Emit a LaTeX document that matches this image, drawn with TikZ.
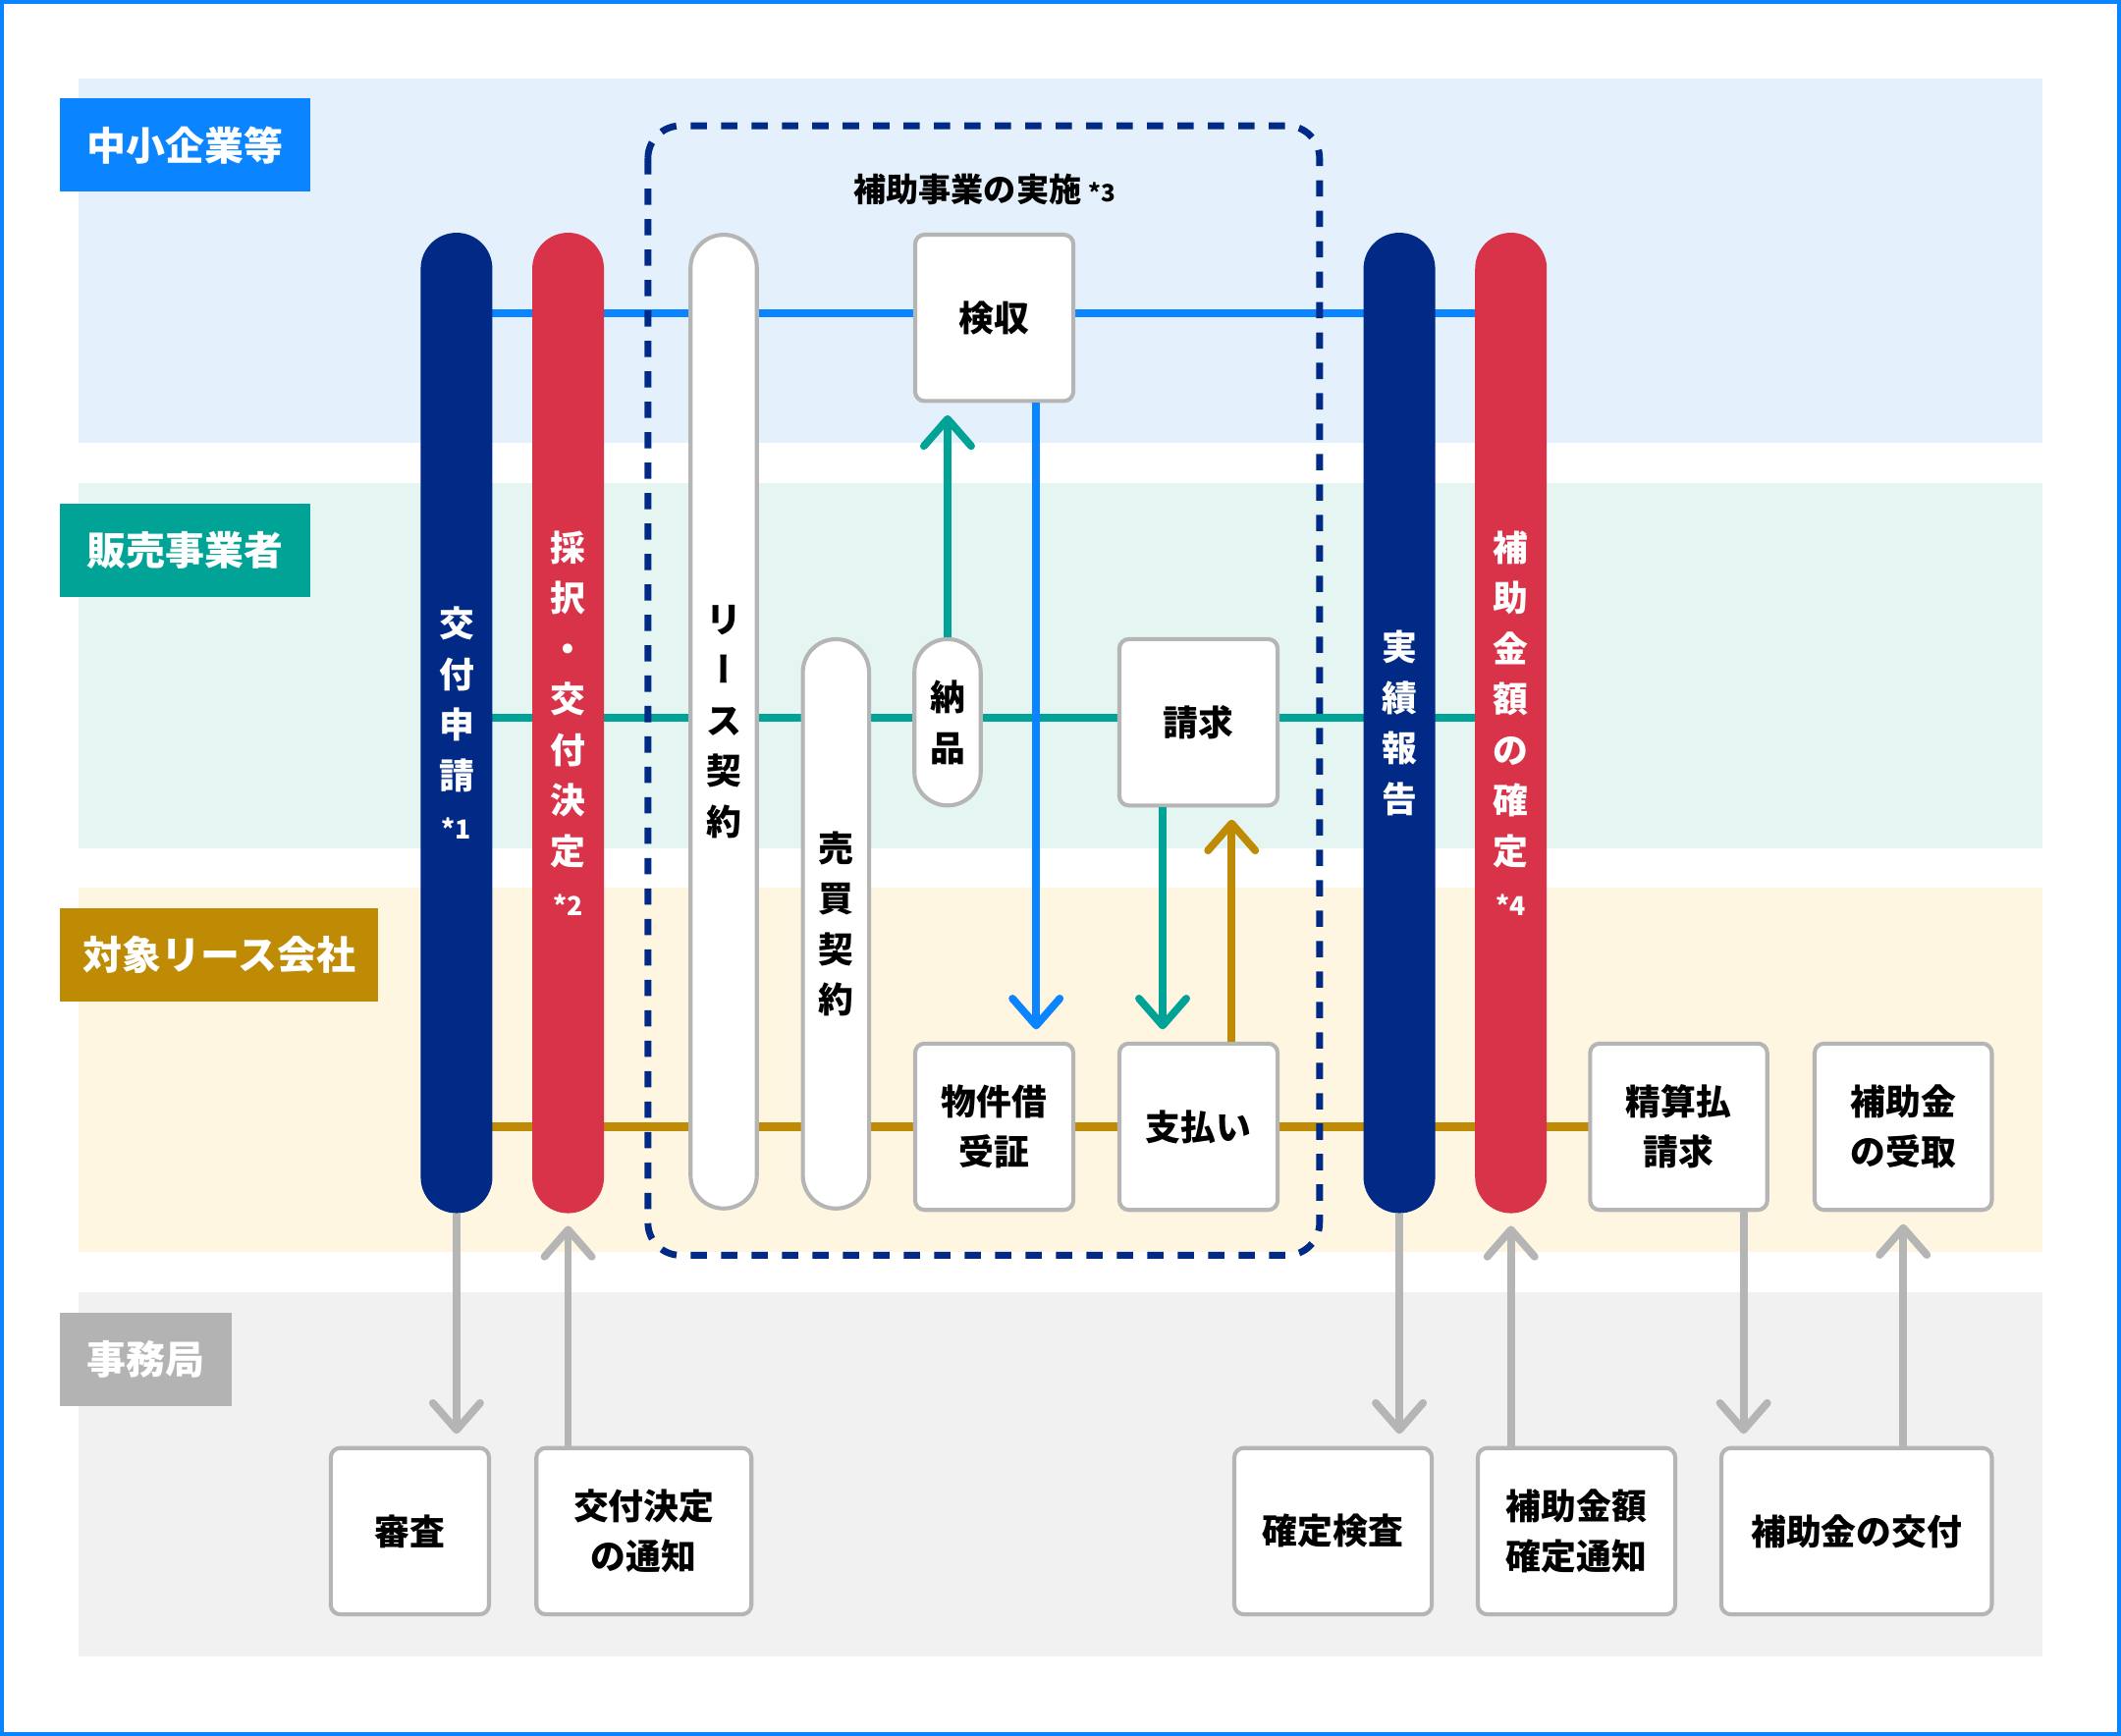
\documentclass[tikz,border=0pt]{standalone}
\usepackage{fontspec}
\setmainfont{Noto Sans CJK JP}
\newfontfamily\jpvert{Noto Sans CJK JP}[RawFeature=+vert]
\usepackage{tikz}
\usetikzlibrary{arrows.meta}

\definecolor{cBlue}{HTML}{0A84FF}
\definecolor{cTeal}{HTML}{00A396}
\definecolor{cGold}{HTML}{BF8A04}
\definecolor{cNavy}{HTML}{002A86}
\definecolor{cRed}{HTML}{D9334A}
\definecolor{cGray}{HTML}{B3B3B3}
\definecolor{cLine}{HTML}{B5B5B5}
\definecolor{laneA}{HTML}{E4F1FC}
\definecolor{laneB}{HTML}{E4F5F2}
\definecolor{laneC}{HTML}{FFF6E2}
\definecolor{laneD}{HTML}{F1F1F1}

\pgfdeclarelayer{back}
\pgfdeclarelayer{rails}
\pgfsetlayers{back,rails,main}

\tikzset{
  lanelab/.style={fill=#1, text=white, anchor=north west, minimum height=1.38cm, inner xsep=0.4cm, font=\fontsize{16.5}{20}\selectfont\bfseries},
  pill/.style={fill=#1, text=white, rounded corners=0.53cm, minimum width=1.06cm, minimum height=14.5cm, inner sep=0pt, align=center, font=\fontsize{14.8}{21.3}\selectfont\bfseries},
  wpill/.style={pill=white, draw=cLine, line width=1.7pt, text=black, minimum width=0.98cm, rounded corners=0.49cm},
  wbox/.style={fill=white, draw=cLine, line width=1.7pt, rounded corners=0.14cm, minimum height=2.46cm, minimum width=2.34cm, inner sep=0pt, align=center, font=\fontsize{14.8}{21}\selectfont\bfseries},
  rail/.style={#1, line width=3.4pt},
  flow/.style={#1, line width=3.2pt, -{Straight Barb[length=0.4cm, width=0.7cm, round]}, shorten >=0.18cm},
}

\begin{document}
\begin{tikzpicture}[x=0.02cm, y=-0.02cm]
	\useasboundingbox (0,0) rectangle (1568,1283.4);
	\begin{pgfonlayer}{back}
		\draw[cBlue, line width=0.06cm] (1.5,1.5) rectangle (1566.5,1281.9);
		\foreach \c/\y in {laneA/58, laneB/357.5, laneC/656, laneD/955}
			\fill[\c] (58,\y) rectangle (1510,\y+269.5);
	\end{pgfonlayer}

	\node[lanelab=cBlue] (labA) at (44,72.5) {中小企業等};
	\node[lanelab=cTeal] (labB) at (44,372) {販売事業者};
	\node[lanelab=cGold, inner xsep=0.34cm] (labC) at (44,671) {対象リース会社};
	\node[lanelab=cGray] (labD) at (44,970) {事務局};

	\node[pill=cNavy] (shinsei) at (337.5,534.5) {交\\付\\申\\請\\{\fontsize{11}{11}\selectfont *1}};
	\node[pill=cRed] (kettei) at (420,534.5) {採\\択\\・\\交\\付\\決\\定\\{\fontsize{11}{11}\selectfont *2}};
	\node[wpill, minimum height=14.4cm] (lease) at (535,533.5) {リ\\{\jpvert ー}\\ス\\契\\約};
	\node[wpill, minimum height=8.42cm] (baibai) at (618,683) {売\\買\\契\\約};
	\node[wpill, minimum height=2.46cm] (nouhin) at (700.5,534) {納\\品};
	\node[pill=cNavy] (jisseki) at (1034.5,534.5) {実\\績\\報\\告};
	\node[pill=cRed] (kakutei) at (1117,534.5) {補\\助\\金\\額\\の\\確\\定\\{\fontsize{11}{11}\selectfont *4}};

	\node[wbox] (kenshu) at (735,235) {検収};
	\node[wbox] (seikyu) at (886,534) {請求};
	\node[wbox] (buken) at (735,833) {物件借\\受証};
	\node[wbox] (shiharai) at (886,833) {支払い};
	\node[wbox, minimum width=2.62cm] (seisan) at (1241,833) {精算払\\請求};
	\node[wbox, minimum width=2.62cm] (uketori) at (1407,833) {補助金\\の受取};
	\node[wbox] (shinsa) at (303,1132) {審査};
	\node[wbox, minimum width=3.18cm] (tsuchi) at (476,1132) {交付決定\\の通知};
	\node[wbox, minimum width=2.92cm] (kensa) at (985.5,1132) {確定検査};
	\node[wbox, minimum width=2.92cm] (gakutsuchi) at (1165.5,1132) {補助金額\\確定通知};
	\node[wbox, minimum width=4cm] (kofu) at (1372.5,1132) {補助金の交付};

	\begin{pgfonlayer}{rails}
		\draw[rail=cBlue] ([yshift=0.07cm]shinsei |- kenshu) -- ([yshift=0.07cm]kakutei |- kenshu);
		\draw[rail=cTeal] ([yshift=0.07cm]shinsei |- seikyu) -- ([yshift=0.07cm]kakutei |- seikyu);
		\draw[rail=cGold] (shinsei |- buken) -- (seisan |- buken);
	\end{pgfonlayer}

	\draw[cNavy, line width=0.1cm, dash pattern=on 0.24cm off 0.21cm, rounded corners=0.48cm] (479,93) rectangle (975.5,928);
	\node[font=\fontsize{13.7}{16}\selectfont\bfseries] (title) at (728,140) {補助事業の実施 {\fontsize{10}{10}\selectfont *3}};

	\draw[flow=cTeal] (nouhin.north) -- (nouhin.north |- kenshu.south);
	\draw[flow=cBlue] ([xshift=0.62cm]kenshu.south) -- ([xshift=0.62cm]kenshu.south |- buken.north);
	\draw[flow=cTeal] ([xshift=-0.53cm]seikyu.south) -- ([xshift=-0.53cm]seikyu.south |- shiharai.north);
	\draw[flow=cGold] ([xshift=0.49cm]shiharai.north) -- ([xshift=0.49cm]shiharai.north |- seikyu.south);

	\draw[flow=cLine] (shinsei.south) -- (shinsei.south |- shinsa.north);
	\draw[flow=cLine] (kettei.south |- tsuchi.north) -- (kettei.south);
	\draw[flow=cLine] (jisseki.south) -- (jisseki.south |- kensa.north);
	\draw[flow=cLine] (kakutei.south |- gakutsuchi.north) -- (kakutei.south);
	\draw[flow=cLine] ([xshift=0.96cm]seisan.south) -- ([xshift=0.96cm]seisan.south |- kofu.north);
	\draw[flow=cLine] (uketori.south |- kofu.north) -- (uketori.south);
\end{tikzpicture}
\end{document}
